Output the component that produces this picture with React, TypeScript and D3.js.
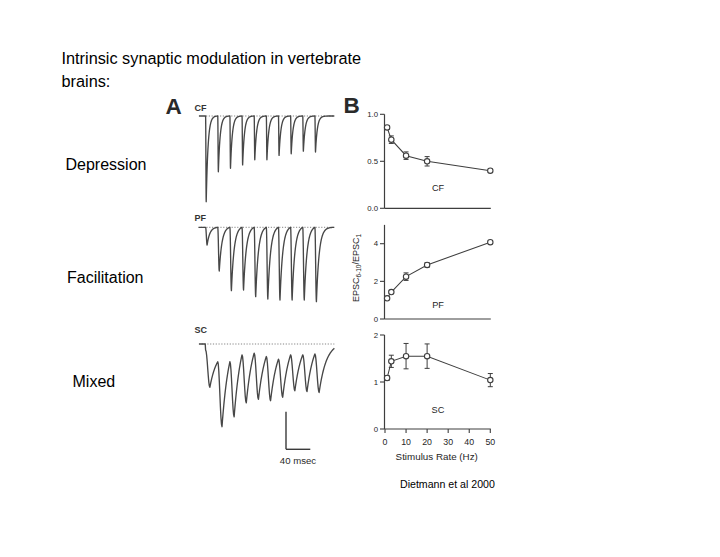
import React from 'react';
import * as d3 from 'd3';

// ---------- Panel B data (EPSC6-10 / EPSC1 vs stimulus rate) ----------
const stimRates = [1, 3, 10, 20, 50];
const cfRatio = [0.86, 0.73, 0.56, 0.5, 0.4];
const cfErr = [0.02, 0.04, 0.04, 0.05, 0.015];
const pfRatio = [1.1, 1.43, 2.25, 2.87, 4.08];
const pfErr = [0.06, 0.08, 0.2, 0.12, 0.06];
const scRatio = [1.085, 1.44, 1.55, 1.55, 1.04];
const scErr = [0.05, 0.13, 0.27, 0.26, 0.14];
const rateTicks = [0, 10, 20, 30, 40, 50];
const cfTicks = [0, 0.5, 1.0];
const pfTicks = [0, 2, 4];
const scTicks = [0, 1, 2];

// ---------- Panel A data (50 Hz trains, amplitudes normalised to EPSC1) ----------
const pulseTimes = [0, 20, 40, 60, 80, 100, 120, 140, 160, 180]; // ms
const cfAmp = [1.0, 0.65, 0.61, 0.57, 0.51, 0.51, 0.46, 0.44, 0.41, 0.42];
const pfAmp = [1.0, 2.47, 3.58, 3.54, 3.92, 4.05, 4.11, 4.11, 4.11, 4.2];
const scAmp = [1.0, 1.91, 1.68, 1.36, 1.28, 1.31, 1.23, 1.08, 1.1, 1.12];
const scCrest = [0.14, 0.41, 0.41, 0.25, 0.21, 0.29, 0.35, 0.25, 0.25, 0.23];
const zeroCrest = [0, 0, 0, 0, 0, 0, 0, 0, 0, 0];
const scEndLevel = 0.1;
const scaleBarMs = 40;
const scaleBarAmp = 0.87; // in SC units

const FONT = "'Liberation Sans', Arial, Helvetica, sans-serif";
const INK = '#262626';
const LINE = '#3e3e3e';

function buildTrace(
  amp: number[],
  crest: number[],
  endLevel: number,
  rise: number,
  tau: number,
  tStart: number,
  tEnd: number
): [number, number][] {
  const pts: [number, number][] = [
    [tStart, 0],
    [-0.6, 0],
  ];
  const n = pulseTimes.length;
  pulseTimes.forEach((t0, i) => {
    const c0 = crest[i];
    const a = amp[i];
    const tp = t0 + rise;
    const tNext = i < n - 1 ? pulseTimes[i + 1] : tEnd;
    const cNext = i < n - 1 ? crest[i + 1] : endLevel;
    const nD = 8;
    for (let k = 0; k <= nD; k++) {
      const s = k / nD;
      pts.push([t0 + s * rise, c0 + (a - c0) * d3.easeSinInOut(s)]);
    }
    const T = tNext - tp;
    const nR = 40;
    const e = Math.exp(-T / tau);
    for (let k = 1; k <= nR; k++) {
      const dt = (T * k) / nR;
      const g = (Math.exp(-dt / tau) - e) / (1 - e);
      pts.push([tp + dt, cNext + (a - cNext) * g]);
    }
  });
  return pts;
}

const tScale = d3.scaleLinear().domain([0, 180]).range([205.6, 314.9]);

type TraceProps = {
  label: string;
  labelY: number;
  baseline: number;
  firstPx: number;
  amp: number[];
  crest: number[];
  endLevel: number;
  rise: number;
  tau: number;
  dotStart: number;
};

function Trace(p: TraceProps) {
  const y = d3.scaleLinear().domain([0, 1]).range([p.baseline, p.baseline + p.firstPx]);
  const pts = buildTrace(p.amp, p.crest, p.endLevel, p.rise, p.tau, -11, 212);
  const line = d3
    .line<[number, number]>()
    .x((d) => tScale(d[0]))
    .y((d) => y(d[1]));
  return (
    <g>
      <text x={194.5} y={p.labelY} fontSize={9} fontWeight="bold" fontFamily={FONT} fill="#333">
        {p.label}
      </text>
      <line
        x1={p.dotStart}
        x2={tScale(212)}
        y1={p.baseline}
        y2={p.baseline}
        stroke="#666"
        strokeWidth={0.8}
        strokeDasharray="1.2,1.6"
      />
      <path d={line(pts) || ''} fill="none" stroke="#474747" strokeWidth={1.35} strokeLinejoin="round" />
    </g>
  );
}

const xScale = d3.scaleLinear().domain([0, 50]).range([385, 490.3]);
const AXIS_X = 384.5;

type PlotProps = {
  y: d3.ScaleLinear<number, number>;
  ticks: number[];
  fmt: (v: number) => string;
  axisTop: number;
  values: number[];
  errs: number[];
  label: string;
  labelY: number;
  showX: boolean;
};

function RatioPlot(p: PlotProps) {
  const y0 = p.y(0);
  const pts = stimRates.map((r, i) => [r, p.values[i]] as [number, number]);
  const line = d3
    .line<[number, number]>()
    .x((d) => xScale(d[0]))
    .y((d) => p.y(d[1]));
  return (
    <g fontFamily={FONT} fill={INK}>
      <line x1={AXIS_X} x2={AXIS_X} y1={p.axisTop} y2={y0} stroke={LINE} strokeWidth={1.2} />
      <line x1={AXIS_X} x2={xScale(50) + 0.5} y1={y0} y2={y0} stroke={LINE} strokeWidth={1.2} />
      {p.ticks.map((t) => (
        <g key={t}>
          <line x1={AXIS_X - 4.5} x2={AXIS_X} y1={p.y(t)} y2={p.y(t)} stroke={LINE} strokeWidth={1.1} />
          <text x={AXIS_X - 6.5} y={p.y(t) + 2.7} fontSize={7.8} textAnchor="end">
            {p.fmt(t)}
          </text>
        </g>
      ))}
      {p.showX &&
        rateTicks.map((t) => (
          <g key={t}>
            <line x1={xScale(t)} x2={xScale(t)} y1={y0} y2={y0 + 4} stroke={LINE} strokeWidth={1.1} />
            <text x={xScale(t)} y={y0 + 16} fontSize={8.8} textAnchor="middle">
              {t}
            </text>
          </g>
        ))}
      <path d={line(pts) || ''} fill="none" stroke={LINE} strokeWidth={1.05} />
      {stimRates.map((r, i) => {
        const cx = xScale(r);
        const top = p.y(p.values[i] + p.errs[i]);
        const bot = p.y(p.values[i] - p.errs[i]);
        return (
          <g key={r}>
            <line x1={cx} x2={cx} y1={top} y2={bot} stroke={LINE} strokeWidth={1} />
            <line x1={cx - 2.5} x2={cx + 2.5} y1={top} y2={top} stroke={LINE} strokeWidth={1} />
            <line x1={cx - 2.5} x2={cx + 2.5} y1={bot} y2={bot} stroke={LINE} strokeWidth={1} />
          </g>
        );
      })}
      {stimRates.map((r, i) => (
        <circle key={'c' + r} cx={xScale(r)} cy={p.y(p.values[i])} r={2.7} fill="#fff" stroke={LINE} strokeWidth={1.1} />
      ))}
      <text x={438} y={p.labelY} fontSize={9.2} textAnchor="middle">
        {p.label}
      </text>
    </g>
  );
}

export default function App() {
  const cfY = d3.scaleLinear().domain([0, 1]).range([208.3, 114.3]);
  const pfY = d3.scaleLinear().domain([0, 4]).range([319, 243.7]);
  const scY = d3.scaleLinear().domain([0, 2]).range([429, 335]);
  const scTraceY = d3.scaleLinear().domain([0, 1]).range([0, 43.3]);
  const f1 = d3.format('.1f');
  const fd = d3.format('d');
  const barX = 286;
  const barBottom = 449.3;

  return (
    <svg
      width={720}
      height={557}
      style={{ position: 'absolute', left: 0, top: 0, background: '#fff' }}
    >
      <rect x={0} y={0} width={720} height={557} fill="#fff" />
      {/* slide text */}
      <g fontFamily={FONT} fill="#000" fontSize={16}>
        <text x={61.5} y={64} fontSize={16.3}>Intrinsic synaptic modulation in vertebrate</text>
        <text x={61.5} y={86.5} fontSize={16.3}>brains:</text>
        <text x={65.5} y={170}>Depression</text>
        <text x={67} y={282.7}>Facilitation</text>
        <text x={72.5} y={386.7}>Mixed</text>
        <text x={400} y={488.3} fontSize={10.6}>
          Dietmann et al 2000
        </text>
      </g>

      {/* panel letters */}
      <g fontFamily={FONT} fill="#2a2a2a" fontSize={22.5} fontWeight="bold">
        <text x={165.5} y={114}>A</text>
        <text x={343.5} y={113.3}>B</text>
      </g>

      {/* Panel A traces */}
      <Trace label="CF" labelY={110.5} baseline={116} firstPx={85.7} amp={cfAmp} crest={zeroCrest} endLevel={0} rise={1} tau={3} dotStart={206} />
      <Trace label="PF" labelY={220.5} baseline={227.3} firstPx={17.7} amp={pfAmp} crest={zeroCrest} endLevel={0} rise={2.5} tau={4.5} dotStart={198} />
      <Trace label="SC" labelY={332.5} baseline={344} firstPx={43.3} amp={scAmp} crest={scCrest} endLevel={scEndLevel} rise={7} tau={12} dotStart={201.7} />

      {/* scale bar */}
      <g stroke="#3a3a3a" strokeWidth={1.4} fill="none">
        <line x1={barX} x2={barX} y1={barBottom - scTraceY(scaleBarAmp)} y2={barBottom} />
        <line x1={barX} x2={barX + (tScale(scaleBarMs) - tScale(0))} y1={barBottom} y2={barBottom} />
      </g>
      <text x={298} y={464} fontSize={9.6} fontFamily={FONT} fill="#2a2a2a" textAnchor="middle">
        {scaleBarMs} msec
      </text>

      {/* Panel B plots */}
      <RatioPlot y={cfY} ticks={cfTicks} fmt={f1} axisTop={cfY(1)} values={cfRatio} errs={cfErr} label="CF" labelY={191} showX={false} />
      <RatioPlot y={pfY} ticks={pfTicks} fmt={fd} axisTop={pfY(5)} values={pfRatio} errs={pfErr} label="PF" labelY={307.5} showX={false} />
      <RatioPlot y={scY} ticks={scTicks} fmt={fd} axisTop={scY(2)} values={scRatio} errs={scErr} label="SC" labelY={413} showX={true} />

      <text x={436.7} y={459.5} fontSize={9.8} fontFamily={FONT} fill={INK} textAnchor="middle">
        Stimulus Rate (Hz)
      </text>
      <text
        transform="translate(359,268) rotate(-90)"
        fontSize={9}
        fontFamily={FONT}
        fill={INK}
        textAnchor="middle"
      >
        EPSC
        <tspan fontSize={6.5} dy={2}>6-10</tspan>
        <tspan dy={-2}>/EPSC</tspan>
        <tspan fontSize={6.5} dy={2}>1</tspan>
      </text>
    </svg>
  );
}
